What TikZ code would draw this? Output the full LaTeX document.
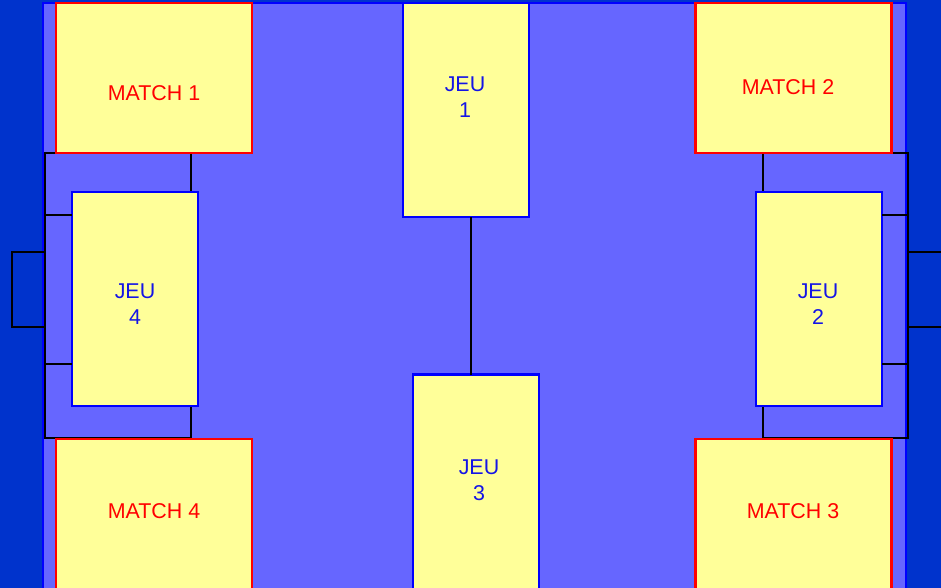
\documentclass[tikz,border=0pt]{standalone}
\usepackage{fontspec}
\setmainfont{Liberation Sans}
\definecolor{bgblue}{HTML}{0033CC}
\definecolor{fieldblue}{HTML}{6666FF}
\definecolor{fieldline}{HTML}{0000FF}
\definecolor{boxyellow}{HTML}{FFFF99}
\definecolor{jeublue}{HTML}{1414E6}
\begin{document}
\begin{tikzpicture}[x=1bp,y=-1bp,
  matchbox/.style={draw=red, fill=boxyellow, line width=2.2bp, inner sep=0pt, outer sep=0pt, minimum width=196bp},
  jeubox/.style={draw=fieldline, fill=boxyellow, line width=2.2bp, inner sep=0pt, outer sep=0pt, minimum width=126bp, minimum height=214bp},
  marking/.style={draw=black, line width=2bp},
  matchtxt/.style={text=red, font=\fontsize{21.5}{27}\selectfont, inner sep=0pt},
  jeutxt/.style={text=jeublue, font=\fontsize{21.5}{26}\selectfont, align=center, inner sep=0pt}]
\useasboundingbox (0,0) rectangle (941,588);
\clip (0,0) rectangle (941,588);
% background and field
\fill[bgblue] (0,0) rectangle (941,588);
\draw[fill=fieldblue, draw=fieldline, line width=2.2bp] (43,3) rectangle (906,600);
% markings
\draw[marking] (45,153) rectangle (191,438);
\draw[marking] (763,153) rectangle (908,438);
\draw[marking] (12,252) rectangle (45,327);
\draw[marking] (908,252) rectangle (950,327);
% boxes
\node[matchbox, minimum height=150bp] (m1) at (154,78) {};
\node[matchbox, minimum height=150bp] (m2) at (793.5,78) {};
\node[matchbox, minimum height=160bp] (m4) at (154,519) {};
\node[matchbox, minimum height=160bp] (m3) at (793.5,519) {};
\node[jeubox] (j1) at (466,110) {};
\node[jeubox] (j4) at (135,299) {};
\node[jeubox] (j2) at (819,299) {};
\node[jeubox, minimum height=230bp] (j3) at (476,489.5) {};
% goal area lines
\coordinate (gl1) at (45,215);
\coordinate (gl2) at (45,364);
\coordinate (gr1) at (908,215);
\coordinate (gr2) at (908,364);
\draw[marking] (gl1) -- (gl1 -| j4.west);
\draw[marking] (gl2) -- (gl2 -| j4.west);
\draw[marking] (gr1) -- (gr1 -| j2.east);
\draw[marking] (gr2) -- (gr2 -| j2.east);
% centre line
\coordinate (ctop) at (471,217);
\draw[marking] (ctop) -- (ctop |- j3.north);
% texts
\node[matchtxt] (t1) at (154,93) {MATCH 1};
\node[matchtxt] (t2) at (788,87) {MATCH 2};
\node[matchtxt] (t4) at (154,511) {MATCH 4};
\node[matchtxt] (t3) at (793,511) {MATCH 3};
\node[jeutxt] (tj1) at (465,97) {JEU\\1};
\node[jeutxt] (tj4) at (135,304) {JEU\\4};
\node[jeutxt] (tj2) at (818,304) {JEU\\2};
\node[jeutxt] (tj3) at (479,480) {JEU\\3};
\end{tikzpicture}
\end{document}
